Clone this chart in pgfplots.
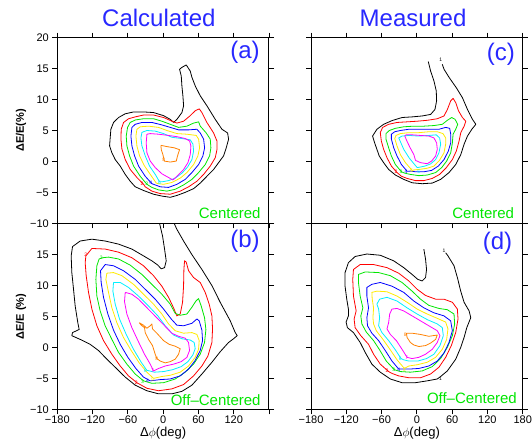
\documentclass[border=0pt]{standalone}
\usepackage{pgfplots}
\pgfplotsset{compat=1.18}
\usepackage{fontspec}
\setmainfont{Liberation Sans}
\definecolor{cred}{RGB}{255,0,0}
\definecolor{cgreen}{RGB}{0,230,0}
\definecolor{cblue}{RGB}{0,0,255}
\definecolor{cyellow}{RGB}{255,235,0}
\definecolor{ccyan}{RGB}{0,240,255}
\definecolor{cmag}{RGB}{255,0,255}
\definecolor{corange}{RGB}{255,128,0}
\definecolor{tblue}{RGB}{40,40,255}

\pgfplotsset{
  panel/.style={
    scale only axis, width=211.7pt, height=185.6pt, anchor=south west,
    xmin=-180, xmax=180, ymin=-10, ymax=20,
    xtick={-180,-120,...,180}, ytick={-10,-5,...,20},
    tick align=outside, major tick length=5pt,
    axis line style={line width=1pt},
    every tick/.style={black, line width=0.8pt},
    ticklabel style={font=\fontsize{11}{12}\selectfont},
    xticklabel style={yshift=-0.5pt, inner sep=1pt},
    /pgf/number format/assume math mode=true,
    every axis plot/.append style={line width=0.8pt, line join=round, mark=none},
    every axis y label/.style={at={(axis description cs:-0.171,0.5)}, rotate=90,
      anchor=center, font=\bfseries\fontsize{11}{13}\selectfont},
    every axis x label/.style={at={(axis description cs:0.5,-0.128)},
      anchor=center, inner sep=0pt, font=\fontsize{13}{15}\selectfont},
  },
  ttl/.style={title style={at={(axis description cs:#1,1)}, anchor=base,
      yshift=5pt, font=\fontsize{24}{28}\selectfont, text=tblue}},
}
\tikzset{
  plab/.style={font=\fontsize{24}{28}\selectfont, text=tblue, anchor=center},
  clab/.style={font=\fontsize{15}{18}\selectfont, text=cgreen, anchor=base east, inner sep=0pt},
  cnum/.style={font=\fontsize{5}{5}\selectfont, inner sep=0pt},
}

\begin{document}
\begin{tikzpicture}
\useasboundingbox (0,0) rectangle (532pt,441pt);

% ---------------- (a) calculated, centered
\begin{axis}[panel, ttl=0.48, at={(57.3pt,217.7pt)},
  title={Calculated},
  xticklabels={},
  yticklabels={−10,−5,0,5,10,15,20},
  ylabel={ΔE/E(\%)}]
\addplot[black] coordinates {(39.3,15.6) (46.1,14.6) (48.9,13.6) (54.6,12.2) (63.1,10.6) (74.4,9.0) (88.6,6.8) (100,5.2) (109.6,4.6) (111.3,3.6) (107.3,2.2) (102.8,0.9) (94.3,-0.2) (85.8,-1.3) (74.4,-2.4) (63.1,-3.5) (51.8,-4.4) (37.6,-5.0) (23.4,-5.5) (12.1,-5.8) (-2.1,-5.6) (-16.3,-5.3) (-33.3,-4.7) (-47.5,-4.1) (-56,-3.2) (-64.5,-2.1) (-73,-0.75) (-81.5,0.3) (-87.2,1.4) (-91.1,2.5) (-90,3.9) (-88.9,5.2) (-84.3,6.3) (-75.8,7.1) (-64.5,7.7) (-50.3,8.0) (-33.3,8.0) (-16.3,7.9) (0.7,7.4) (12.1,6.8) (17.7,6.3) (23.4,6.8) (31.9,7.9) (34.8,9.0) (33.6,10.6) (31.9,12.2) (30.8,13.8) (27.9,14.9) (31.9,15.2) (39.3,15.6)};
\addplot[cred] coordinates {(-33.3,-3.7) (-44.6,-2.6) (-56,-1.3) (-64.5,0.3) (-70.1,2.0) (-71.8,3.6) (-71.3,5.2) (-67.3,6.3) (-58.8,6.9) (-47.5,7.2) (-33.3,7.5) (-16.3,7.5) (0.7,7.1) (14.9,6.5) (23.4,6.2) (34.8,6.5) (46.1,7.4) (54.6,8.2) (61.4,8.5) (65.9,7.9) (74.4,6.3) (85.8,4.6) (91.5,3.3) (91.5,1.9) (88.6,0.6) (80.1,-0.75) (68.8,-2.1) (57.4,-3.2) (43.3,-4.1) (29.1,-4.8) (12.1,-5.3) (-4.9,-5.2) (-19.1,-4.8) (-30.5,-4.1) (-33.3,-3.7)};
\addplot[cgreen] coordinates {(-27.6,-3.7) (-39,-2.4) (-50.3,-0.75) (-57.1,0.9) (-61.6,2.5) (-62.8,4.1) (-60.5,5.5) (-56,6.3) (-47.5,6.7) (-33.3,6.9) (-16.3,6.9) (-2.1,6.5) (12.1,6.0) (26.2,5.5) (40.4,5.7) (51.8,6.2) (60.3,6.4) (63.1,5.7) (73.3,4.6) (80.1,3.6) (81.2,2.2) (79,0.9) (71.6,-0.5) (60.3,-1.8) (48.9,-2.9) (34.8,-3.8) (20.6,-4.5) (6.4,-4.8) (-7.8,-4.6) (-19.1,-4.2) (-27.6,-3.7)};
\addplot[cblue] coordinates {(-19.1,-3.6) (-30.5,-2.4) (-41.8,-0.75) (-48.6,0.9) (-53.1,2.5) (-54.8,4.1) (-53.1,5.5) (-47.5,6.0) (-36.1,6.3) (-19.1,6.3) (-2.1,5.9) (12.1,5.5) (26.2,5.1) (43.3,5.1) (57.4,5.2) (63.1,4.6) (68.8,3.6) (70.5,2.2) (67.6,0.9) (60.3,-0.5) (48.9,-1.8) (37.6,-2.9) (23.4,-3.7) (9.2,-4.2) (-4.9,-4.1) (-13.4,-3.8) (-19.1,-3.6)};
\addplot[cyellow] coordinates {(-11.7,-3.5) (-21.9,-2.1) (-32.2,-0.65) (-40.1,0.9) (-44.6,2.5) (-46.3,4.1) (-44.6,5.2) (-39,5.6) (-24.8,5.7) (-7.8,5.5) (6.4,5.0) (23.4,4.5) (40.4,4.4) (56.3,4.2) (60.3,3.6) (62,2.2) (59.1,0.9) (51.8,-0.5) (40.4,-1.8) (29.1,-2.7) (14.9,-3.4) (0.7,-3.7) (-7.8,-3.6) (-11.7,-3.5)};
\addplot[ccyan] coordinates {(-6.1,-3.3) (-13.4,-2.1) (-23.1,-0.75) (-30.5,0.9) (-36.1,2.5) (-37.8,3.8) (-36.1,4.7) (-27.6,5.0) (-13.4,4.9) (0.7,4.5) (14.9,3.9) (31.9,3.7) (46.1,3.5) (50.6,2.8) (51.8,1.7) (48.9,0.3) (41.6,-0.9) (31.9,-1.9) (20.6,-2.7) (9.2,-3.1) (-2.1,-3.3) (-6.1,-3.3)};
\addplot[cmag] coordinates {(-27.6,4.4) (-28.8,3.0) (-27.6,1.4) (-22,0.06) (-13.4,-1.0) (-2.1,-2.0) (9.2,-2.6) (16.6,-3.0) (24.5,-2.3) (34.8,-1.3) (42.1,-0.2) (46.1,1.1) (47.2,2.5) (45,3.3) (37.6,3.7) (23.4,4.0) (9.2,4.2) (-7.8,4.4) (-22,4.5) (-27.6,4.4)};
\addplot[corange] coordinates {(-3.8,2.6) (6.4,2.4) (18.9,2.2) (27.9,1.9) (24.5,0.9) (22.3,0.06) (12.1,-0.1) (1.9,0.06) (-0.4,1.1) (-3.2,1.9) (-3.8,2.6)};
\node[cnum, text=cred] at (axis cs:-36,-3.6) {2};
\node[cnum, text=cgreen] at (axis cs:-28,-3.6) {3};
\node[cnum, text=cblue] at (axis cs:-21,-3.5) {4};
\node[cnum, text=ccyan] at (axis cs:-6,-3.4) {6};
\node[cnum, text=corange] at (axis cs:1,0.2) {8};
\node[plab] at (rel axis cs:0.887,0.919) {(a)};
\node[clab] at (rel axis cs:0.961,0.027) {Centered};
\end{axis}

% ---------------- (b) calculated, off-centered
\begin{axis}[panel, at={(57.3pt,31.7pt)},
  xtick pos=bottom,
  xticklabels={−180,−120,−60,0,60,120,{}},
  yticklabels={−10,−5,0,5,10,15,{}},
  xlabel={Δ$\phi$(deg)},
  ylabel={ΔE/E (\%)}]
\addplot[black] coordinates {(-6,20) (-1,18.0) (2.4,15.9) (5.2,14.0) (2.4,12.9) (-3.3,12.7) (-9,13.3) (-19.2,14.0) (-33.4,14.8) (-53.2,15.9) (-75.9,16.7) (-98.6,17.2) (-121.2,17.5) (-141.1,17.2) (-154.1,16.3) (-156.4,14.8) (-155.3,12.1) (-152.4,9.4) (-149.6,6.7) (-145.1,4.0) (-142.8,2.9) (-154.1,2.4) (-155.3,1.9) (-141.1,1.3) (-124.1,0.5) (-109.9,-0.5) (-95.7,-1.9) (-81.6,-3.2) (-64.5,-4.8) (-47.5,-6.1) (-27.7,-7.0) (-7.8,-7.5) (14.8,-7.5) (31.9,-7.1) (48.9,-6.1) (65.9,-4.3) (82.9,-2.4) (97,-0.7) (111.2,0.8) (119.7,1.4) (126,1.9) (122.6,2.4) (114.1,4.3) (97,7.3) (82.9,10.0) (65.9,12.6) (48.9,15.0) (34.7,17.2) (23.3,19.1) (19,20)};
\addplot[cred] coordinates {(-131.4,14.8) (-121.2,16.0) (-98.6,15.9) (-75.9,15.4) (-53.2,14.5) (-33.4,13.2) (-16.4,11.6) (-2.2,9.9) (9.2,8.1) (17.7,6.4) (23.3,5.1) (29,5.4) (33,7.3) (34.7,9.9) (35.3,12.6) (36.4,14.0) (39.2,13.8) (43.2,12.4) (51.7,11.3) (63,10.5) (71.5,8.9) (78.3,7.0) (82.9,5.1) (84,3.0) (82.9,0.8) (76.1,-1.4) (65.9,-3.0) (51.7,-4.6) (34.7,-6.0) (14.8,-6.7) (-7.8,-7.0) (-27.7,-6.6) (-44.7,-5.7) (-58.9,-4.6) (-73,-3.0) (-87.2,-1.1) (-101.4,1.1) (-112.7,3.5) (-121.2,6.2) (-126.9,8.9) (-130.9,11.6) (-132.6,13.7) (-131.4,14.8)};
\addplot[cgreen] coordinates {(-103.1,14.5) (-92.9,14.6) (-75.9,14.3) (-56,13.3) (-36.2,11.8) (-19.2,10.2) (-2.2,8.6) (12,7.0) (20.5,5.5) (29,5.2) (40.4,5.4) (48.9,6.5) (55.7,7.5) (60.2,7.9) (64.7,6.7) (70.4,4.8) (72.7,2.9) (70.4,0.8) (63,-1.1) (51.7,-2.7) (37.5,-4.0) (20.5,-5.1) (0.7,-5.7) (-19.2,-5.8) (-33.4,-5.4) (-47.5,-4.3) (-61.7,-2.7) (-75.9,-0.8) (-87.2,1.3) (-98.6,3.5) (-107.1,5.9) (-112.7,8.3) (-114.4,11.0) (-112.7,13.2) (-108.8,14.3) (-103.1,14.5)};
\addplot[cblue] coordinates {(-98.6,13.4) (-84.4,13.2) (-67.4,12.4) (-47.5,11.0) (-30.5,9.4) (-13.5,7.8) (0.7,6.2) (13.7,4.6) (23.3,3.6) (34.7,3.5) (48.9,3.9) (57.4,4.6) (61.3,4.3) (65.9,2.8) (67,1.1) (63,-0.5) (54.5,-2.1) (43.2,-3.5) (29,-4.6) (12,-5.1) (-5,-5.2) (-22,-5.4) (-33.4,-4.8) (-46.4,-3.4) (-60,-1.6) (-73,0.5) (-84.4,2.8) (-94,5.4) (-101.4,8.1) (-105.4,10.5) (-106.5,12.4) (-98.6,13.4)};
\addplot[cyellow] coordinates {(-95.7,12.0) (-84.4,12.1) (-70.2,11.6) (-50.4,10.2) (-33.4,8.6) (-16.4,7.0) (-2.2,5.4) (9.2,3.8) (20.5,2.7) (34.7,2.3) (48.9,2.4) (57.4,2.1) (61.3,1.1) (60.2,-0.3) (54.5,-1.6) (43.2,-3.0) (29,-4.0) (12,-4.5) (-2.2,-4.7) (-16.4,-5.0) (-27.7,-4.0) (-40.7,-2.5) (-54.3,-0.5) (-67.4,1.6) (-78.7,4.0) (-87.2,6.4) (-92.9,8.9) (-97.4,11.0) (-95.7,12.0)};
\addplot[ccyan] coordinates {(-84.4,10.5) (-73,10.5) (-58.9,9.7) (-41.9,8.3) (-24.9,6.7) (-9,5.1) (3.5,3.5) (17.7,2.0) (31.9,1.4) (46,1.2) (52.8,0.8) (54.5,-0.2) (50.6,-1.2) (42.1,-2.3) (30.7,-3.1) (16,-3.6) (0.7,-3.9) (-14.6,-4.0) (-27.7,-3.7) (-37.3,-2.4) (-50.4,-0.3) (-62.8,2.1) (-74.2,4.6) (-81.5,7.0) (-85.5,9.1) (-84.4,10.5)};
\addplot[cmag] coordinates {(-64.5,8.9) (-53.2,8.6) (-41.9,7.8) (-30.5,6.7) (-18.1,5.5) (-7.8,4.5) (3.5,3.4) (14.8,2.3) (26.2,1.8) (37.5,1.5) (43.2,0.8) (44.9,-0.5) (40.4,-1.6) (30.7,-2.3) (17.7,-2.7) (3.5,-3.0) (-7.8,-3.4) (-16.4,-3.8) (-22,-2.7) (-31.7,-1.1) (-41.9,0.9) (-53.2,3.2) (-61.7,5.4) (-65.7,7.4) (-64.5,8.9)};
\addplot[corange] coordinates {(-40.7,4.0) (-33.4,3.6) (-27.7,3.1) (-22,3.5) (-19.2,3.8) (-18.1,3.0) (-10.7,2.3) (0.7,1.1) (10.3,0.5) (20.5,0.2) (29,-0.2) (26.2,-1.1) (20.5,-1.9) (12,-2.3) (3.5,-2.5) (-5,-2.2) (-10.7,-1.8) (-13.5,-1.1) (-18.1,0.3) (-24.9,1.3) (-30.5,2.4) (-31.7,3.2) (-37.3,3.6) (-40.7,4.0)};
\node[cnum, text=cred] at (axis cs:-131.4,14.9) {2};
\node[cnum, text=cgreen] at (axis cs:-105.4,14.5) {3};
\node[cnum, text=cred] at (axis cs:-45.8,-5.7) {2};
\node[cnum, text=cgreen] at (axis cs:-35,-5.6) {3};
\node[cnum, text=cblue] at (axis cs:-26.6,-5.4) {4};
\node[cnum, text=cyellow] at (axis cs:-18,-5.3) {5};
\node[cnum, text=ccyan] at (axis cs:-30.5,-3.8) {6};
\node[cnum, text=cmag] at (axis cs:-18,-3.8) {7};
\node[cnum, text=corange] at (axis cs:-10.7,-1.8) {8};
\node[plab] at (rel axis cs:0.887,0.906) {(b)};
\node[clab] at (rel axis cs:0.961,0.023) {Off--Centered};
\end{axis}

% ---------------- (c) measured, centered
\begin{axis}[panel, ttl=0.482, at={(311pt,217.7pt)},
  title={Measured},
  xticklabels={}, yticklabels={}]
\addplot[black] coordinates {(19.4,16.15) (23.4,14.6) (29.1,13.0) (33,11.4) (33.6,9.8) (30.8,8.4) (23.4,7.6) (9.1,7.35) (-8,7.2) (-25.1,7.1) (-42.2,6.6) (-56.5,6.0) (-67.9,5.2) (-75.3,4.1) (-71.8,3.0) (-67.9,1.95) (-63.9,0.87) (-56.5,-0.2) (-47.9,-1.3) (-36.5,-2.2) (-22.3,-2.9) (-8,-3.45) (9.1,-3.6) (26.2,-3.5) (40.5,-2.9) (54.7,-1.8) (66.1,-0.5) (74.7,1.1) (80.4,2.8) (86.1,4.1) (93.5,5.2) (100.3,6.0) (94.6,6.8) (86.1,8.4) (77.5,10.3) (67.2,11.9) (54.7,13.6) (46.2,14.9) (43.3,15.7)};
\addplot[cred] coordinates {(-33.7,-1.8) (-43.3,-0.75) (-50.8,0.6) (-56.5,1.95) (-60.4,3.3) (-62.2,4.65) (-58.2,5.5) (-47.9,6.0) (-33.7,6.3) (-16.5,6.4) (0.6,6.5) (17.7,6.65) (34.8,6.9) (46.2,7.35) (51.9,8.4) (57.6,9.8) (61.6,10.2) (66.1,9.5) (70.7,8.2) (77.5,7.1) (83.2,6.5) (80.4,5.7) (74.7,4.65) (71.8,3.3) (67.2,1.7) (60.4,0.3) (50.1,-1.0) (38.7,-2.1) (26.2,-2.75) (12,-3.1) (-2.3,-3.1) (-16.5,-2.75) (-26.2,-2.4) (-33.7,-1.8)};
\addplot[cgreen] coordinates {(-26.2,-1.67) (-36.5,-0.5) (-43.3,0.87) (-47.9,2.2) (-52.5,3.6) (-52.5,4.5) (-46.8,5.0) (-36.5,5.35) (-22.3,5.6) (-5.2,5.7) (12,5.7) (29.1,5.8) (43.3,6.0) (51.9,6.65) (59.3,7.1) (65,6.8) (69.5,6.0) (66.1,5.2) (61.6,4.4) (60.4,3.0) (57.6,1.4) (50.7,0.06) (42.2,-1.0) (31.9,-1.8) (17.7,-2.2) (3.4,-2.3) (-10.8,-2.1) (-20.5,-1.9) (-26.2,-1.67)};
\addplot[cblue] coordinates {(-16.5,-1.6) (-26.2,-0.5) (-33.7,0.87) (-39.3,2.2) (-43.3,3.6) (-43.3,4.4) (-37.6,4.8) (-28,5.0) (-13.7,5.2) (3.4,5.2) (20.5,5.2) (37.6,5.2) (49,5.5) (55.8,5.35) (57.6,4.4) (57.6,3.0) (53.6,1.7) (46.2,0.3) (36.5,-0.75) (25.1,-1.45) (12,-1.67) (-2.3,-1.67) (-10.8,-1.56) (-16.5,-1.6)};
\addplot[cyellow] coordinates {(-8,-1.45) (-19.4,-0.2) (-28,1.1) (-33.7,2.5) (-37.6,3.7) (-35.4,4.2) (-28,4.5) (-13.7,4.65) (3.4,4.65) (20.5,4.8) (34.8,4.8) (44.4,4.5) (49,3.8) (49,2.8) (46.2,1.4) (38.7,0.2) (29.1,-0.75) (17.7,-1.1) (3.4,-1.3) (-3.4,-1.35) (-8,-1.45)};
\addplot[ccyan] coordinates {(0.6,-1.0) (-12.6,0.5) (-22.3,1.95) (-28,3.2) (-30.8,3.8) (-25.1,4.1) (-13.7,4.2) (3.4,4.1) (20.5,4.2) (33,4.3) (38.7,3.8) (40.5,2.8) (37.6,1.4) (31.9,0.3) (23.4,-0.4) (13.7,-0.75) (6.3,-0.9) (0.6,-1.0)};
\addplot[cmag] coordinates {(-20.5,4.1) (-16.5,3.2) (-10.8,2.1) (-5.1,1.1) (-2.3,0.17) (6.3,-0.2) (17.7,-0.37) (25.1,0.06) (31.9,0.87) (34.8,1.95) (33.6,3.0) (29.1,3.8) (20.5,4.1) (6.3,4.2) (-8,4.3) (-18.3,4.3) (-20.5,4.1)};
\node[cnum, text=black] at (axis cs:40.5,16.4) {1};
\node[cnum, text=cred] at (axis cs:-35.4,-1.7) {2};
\node[cnum, text=cgreen] at (axis cs:-27,-1.6) {3};
\node[cnum, text=cblue] at (axis cs:-18.3,-1.6) {4};
\node[cnum, text=cyellow] at (axis cs:-9,-1.5) {5};
\node[cnum, text=ccyan] at (axis cs:3.4,-1.6) {6};
\node[plab] at (rel axis cs:0.897,0.912) {(c)};
\node[clab] at (rel axis cs:0.960,0.027) {Centered};
\end{axis}

% ---------------- (d) measured, off-centered
\begin{axis}[panel, at={(311pt,31.7pt)},
  xtick pos=bottom,
  xticklabels={−180,−120,−60,0,60,120,180},
  yticklabels={},
  xlabel={Δ$\phi$(deg)}]
\addplot[black] coordinates {(11.9,15.9) (14.8,14.25) (16.5,12.6) (14.8,11.3) (9,10.75) (1.6,11.0) (-8.1,11.8) (-22.3,12.9) (-39.4,14.0) (-62.2,14.9) (-85,15.1) (-105,14.7) (-116.4,13.7) (-122.1,12.1) (-122.1,9.9) (-119.2,7.8) (-116.4,6.2) (-116.4,5.1) (-120.3,4.1) (-118.1,3.2) (-107.8,2.4) (-96.4,0.8) (-87.9,-0.8) (-76.5,-2.7) (-62.2,-4.0) (-45.1,-5.1) (-25.2,-5.7) (-2.4,-5.7) (17.6,-5.4) (34.7,-5.1) (40.4,-4.7) (51.8,-3.8) (66.1,-1.9) (74.6,0.0) (80.3,1.6) (84.9,3.2) (91.7,4.8) (88.9,5.9) (80.3,7.3) (74.6,9.1) (68.9,11.3) (63.2,13.2) (52.9,14.8) (49,15.3)};
\addplot[cred] coordinates {(-48,-3.9) (-62.2,-2.7) (-73.6,-1.1) (-82.1,0.5) (-95.3,1.9) (-105,3.2) (-106.7,4.6) (-103.2,5.9) (-107.8,8.3) (-109,11.0) (-107.8,12.6) (-96.4,13.4) (-73.6,13.4) (-50.8,12.9) (-30.9,12.0) (-13.7,10.75) (0.5,9.4) (14.8,8.4) (31.9,7.8) (46.1,7.8) (60.4,7.3) (68.9,6.2) (70,4.6) (66.1,2.4) (58.6,0.3) (49,-1.6) (37.6,-3.2) (23.3,-4.3) (6.2,-4.9) (-13.7,-4.9) (-30.9,-4.6) (-42.3,-4.2) (-48,-3.9)};
\addplot[cgreen] coordinates {(-38.3,-3.6) (-52,-2.2) (-63.3,-0.4) (-73.6,1.1) (-86.1,2.5) (-93.5,3.8) (-95.3,5.1) (-91.8,6.4) (-96.4,8.3) (-99.3,10.5) (-99.3,11.8) (-87.9,12.2) (-65,12.1) (-45.1,11.6) (-25.2,10.5) (-8.1,9.1) (6.2,7.8) (20.4,6.8) (37.6,6.3) (51.8,6.1) (63.2,5.4) (64.3,3.8) (60.4,1.9) (51.8,0.0) (40.4,-1.8) (26.2,-3.1) (9.1,-3.8) (-10.9,-4.0) (-28,-3.9) (-38.3,-3.6)};
\addplot[cblue] coordinates {(-30.9,-3.5) (-42.3,-2.2) (-53.7,-0.5) (-65,1.1) (-76.5,2.3) (-83.9,3.5) (-85,4.8) (-82.2,6.4) (-85,8.3) (-85,9.7) (-76.5,10.2) (-62.2,10.5) (-42.3,9.9) (-22.3,8.9) (-5.2,7.5) (11.9,6.4) (29,5.6) (46.1,5.1) (57.5,4.3) (60.4,2.7) (54.7,0.8) (46.1,-0.9) (34.7,-2.2) (20.4,-3.0) (3.4,-3.4) (-13.7,-3.5) (-22.3,-3.5) (-30.9,-3.5)};
\addplot[cyellow] coordinates {(-21.2,-3.4) (-33.7,-2.0) (-45.1,-0.4) (-57.6,1.3) (-69,2.7) (-73.6,3.8) (-74.7,4.8) (-73.6,6.4) (-75.9,7.8) (-76.5,8.9) (-67.9,9.1) (-50.8,9.0) (-33.7,8.3) (-16.6,7.3) (0.5,6.2) (17.6,5.4) (34.7,4.7) (49,4.1) (52.9,3.0) (50.7,1.3) (43.3,-0.3) (31.9,-1.6) (17.6,-2.4) (0.5,-2.8) (-13.7,-3.0) (-21.2,-3.4)};
\addplot[ccyan] coordinates {(-26.9,-1.8) (-36.5,-0.4) (-47.9,1.1) (-59.4,2.4) (-65,3.5) (-63.3,4.8) (-65,6.2) (-67.9,7.0) (-63.3,7.8) (-50.8,8.1) (-33.7,7.5) (-16.6,6.4) (0.5,5.4) (17.6,4.5) (34.7,3.8) (43.3,3.2) (45,1.9) (39.3,0.3) (29,-1.1) (16.5,-1.8) (1.6,-2.2) (-13.7,-2.2) (-22.3,-2.0) (-26.9,-1.8)};
\addplot[cmag] coordinates {(-16.6,-1.6) (-25.2,-0.3) (-34.8,1.1) (-45.1,2.1) (-50.8,3.0) (-48,4.0) (-46.2,5.4) (-42.3,6.2) (-33.7,6.3) (-22.3,5.9) (-8.1,5.1) (6.2,4.3) (20.4,3.5) (34.7,2.7) (39.3,1.9) (34.7,0.8) (26.2,-0.3) (14.8,-1.1) (3.4,-1.6) (-8.1,-1.8) (-16.6,-1.6)};
\addplot[corange] coordinates {(-17.7,2.3) (-8.1,2.3) (6.2,2.1) (20.4,1.8) (34.7,2.0) (31.9,1.3) (23.3,0.7) (14.8,0.3) (3.4,0.15) (-5.2,0.4) (-11,0.8) (-16.6,1.6) (-17.7,2.3)};
\node[cnum, text=black] at (axis cs:46.1,15.7) {1};
\node[cnum, text=black] at (axis cs:40.4,-5.0) {1};
\node[cnum, text=cred] at (axis cs:-50.8,-3.8) {2};
\node[cnum, text=cgreen] at (axis cs:-39.4,-3.6) {3};
\node[cnum, text=cblue] at (axis cs:-30.9,-3.6) {4};
\node[cnum, text=cyellow] at (axis cs:-21.2,-3.6) {5};
\node[cnum, text=ccyan] at (axis cs:-28,-1.9) {6};
\node[cnum, text=cmag] at (axis cs:-17.7,-1.6) {7};
\node[cnum, text=corange] at (axis cs:-19.5,2.1) {8};
\node[plab] at (rel axis cs:0.881,0.892) {(d)};
\node[clab] at (rel axis cs:0.973,0.032) {Off--Centered};
\end{axis}
\end{tikzpicture}
\end{document}
